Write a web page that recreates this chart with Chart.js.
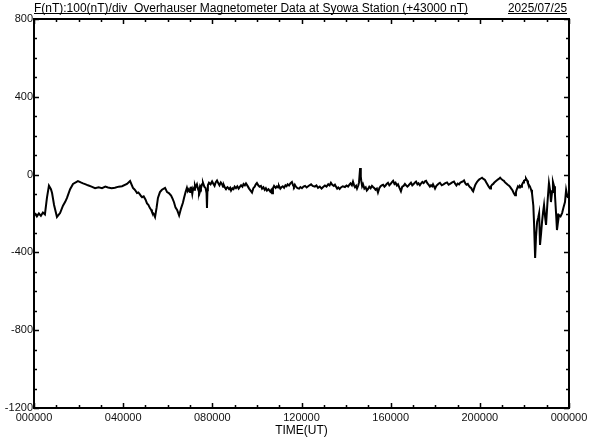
<!DOCTYPE html>
<html>
<head>
<meta charset="utf-8">
<script src="https://cdn.jsdelivr.net/npm/chart.js@4/dist/chart.umd.min.js"></script>
<style>
html,body{margin:0;padding:0;background:#fff;}
#wrap{width:592px;height:440px;position:relative;}
</style>
</head>
<body>
<div id="wrap"><canvas id="c" width="592" height="440"></canvas></div>
<script>
const titleText = "F(nT):100(nT)/div  Overhauser Magnetometer Data at Syowa Station (+43000 nT)";
const dateText = "2025/07/25";
const xTitle = "TIME(UT)";
const yMin = -1200, yMax = 800;
const yLabelValues = [800, 400, 0, -400, -800, -1200];
const xLabelHours = [0, 4, 8, 12, 16, 20, 24];
const xTickLabels = ["000000", "040000", "080000", "120000", "160000", "200000", "000000"];

// time (hours UT)
const hours = [
0.04,0.13,0.22,0.31,0.40,0.49,0.58,0.67,0.76,0.81,
0.90,1.03,1.12,1.17,1.30,1.40,1.48,1.62,1.75,1.97,
2.10,2.20,2.32,2.42,2.58,2.74,2.90,3.05,3.20,3.32,
3.48,3.63,3.80,3.95,4.17,4.31,4.44,4.50,4.55,4.62,
4.68,4.75,4.80,4.85,4.92,5.00,5.07,5.13,5.20,5.25,
5.29,5.36,5.43,5.50,5.56,5.65,5.74,5.88,5.97,6.05,
6.15,6.22,6.28,6.35,6.42,6.51,6.60,6.68,6.73,6.80,
6.86,6.90,6.95,7.00,7.04,7.07,7.10,7.14,7.18,7.22,
7.25,7.31,7.36,7.40,7.45,7.49,7.54,7.58,7.64,7.70,
7.74,7.76,7.78,7.80,7.85,7.92,7.99,8.05,8.10,8.15,
8.21,8.27,8.32,8.38,8.43,8.48,8.52,8.57,8.61,8.68,
8.75,8.80,8.84,8.90,8.95,9.00,9.06,9.12,9.18,9.24,
9.29,9.35,9.40,9.46,9.51,9.58,9.65,9.70,9.78,9.84,
9.90,9.95,10.00,10.06,10.12,10.18,10.23,10.29,10.35,10.40,
10.45,10.52,10.60,10.64,10.68,10.72,10.77,10.84,10.90,10.95,
10.99,11.05,11.10,11.16,11.22,11.28,11.33,11.38,11.44,11.50,
11.57,11.62,11.66,11.70,11.75,11.82,11.89,11.95,12.02,12.09,
12.16,12.23,12.30,12.36,12.43,12.50,12.60,12.67,12.74,12.82,
12.90,12.97,13.05,13.12,13.20,13.26,13.32,13.38,13.45,13.50,
13.55,13.60,13.65,13.71,13.77,13.85,13.95,14.02,14.09,14.15,
14.20,14.26,14.31,14.36,14.40,14.45,14.49,14.55,14.58,14.63,
14.66,14.68,14.72,14.76,14.82,14.88,14.93,14.98,15.04,15.10,
15.16,15.21,15.27,15.32,15.38,15.43,15.49,15.55,15.60,15.66,
15.72,15.77,15.82,15.88,15.94,16.00,16.05,16.11,16.17,16.22,
16.28,16.33,16.40,16.46,16.52,16.58,16.64,16.69,16.75,16.80,
16.86,16.91,16.97,17.02,17.08,17.14,17.20,17.25,17.31,17.36,
17.42,17.48,17.54,17.59,17.65,17.70,17.76,17.81,17.86,17.90,
17.95,17.99,18.05,18.10,18.16,18.21,18.29,18.37,18.45,18.53,
18.60,18.68,18.76,18.84,18.90,18.95,19.01,19.07,19.12,19.18,
19.24,19.29,19.35,19.40,19.46,19.52,19.57,19.62,19.66,19.70,
19.75,19.80,19.87,19.93,19.98,20.04,20.10,20.16,20.23,20.29,
20.35,20.40,20.46,20.50,20.55,20.60,20.64,20.70,20.78,20.85,
20.91,20.96,21.02,21.08,21.13,21.19,21.25,21.30,21.35,21.41,
21.47,21.52,21.58,21.62,21.65,21.71,21.76,21.80,21.85,21.89,
21.94,21.98,22.03,22.07,22.12,22.16,22.20,22.25,22.30,22.34,
22.40,22.43,22.48,22.52,22.57,22.62,22.66,22.70,22.75,22.79,
22.84,22.88,22.93,22.97,23.03,23.10,23.15,23.19,23.24,23.28,
23.33,23.37,23.42,23.46,23.50,23.55,23.62,23.69,23.75,23.82,
23.87,23.92,23.96];

// F deviation (nT, relative to +43000 nT)
const fValues = [
-198,-215,-200,-212,-195,-205,-120,-57,-75,-95,
-156,-218,-205,-198,-160,-140,-120,-75,-48,-33,
-40,-45,-50,-55,-62,-70,-65,-70,-62,-66,
-70,-68,-62,-60,-48,-33,-68,-75,-82,-95,
-92,-102,-110,-116,-112,-128,-148,-155,-172,-180,
-192,-200,-218,-170,-120,-90,-78,-68,-90,-95,
-108,-125,-142,-170,-182,-210,-172,-145,-120,-90,
-68,-85,-75,-90,-62,-80,-100,-70,-78,-55,
-65,-50,-75,-88,-60,-70,-50,-42,-62,-70,
-95,-172,-80,-55,-42,-50,-35,-48,-58,-40,
-30,-45,-55,-40,-48,-62,-55,-68,-72,-65,
-75,-68,-82,-70,-75,-62,-70,-60,-72,-62,
-55,-62,-48,-55,-45,-58,-72,-80,-92,-70,
-62,-50,-43,-55,-62,-58,-72,-65,-78,-70,
-82,-75,-88,-80,-96,-70,-58,-68,-60,-66,
-58,-72,-65,-60,-68,-55,-60,-50,-56,-45,
-38,-55,-62,-52,-62,-70,-72,-64,-70,-62,
-58,-66,-60,-55,-50,-58,-62,-56,-68,-62,
-72,-64,-56,-62,-50,-56,-42,-52,-58,-52,
-62,-72,-66,-74,-66,-60,-64,-56,-62,-52,
-45,-55,-36,-55,-65,-58,-72,-55,-40,34,
-10,-30,-60,-50,-72,-65,-82,-75,-62,-70,
-58,-64,-70,-78,-72,-92,-70,-60,-55,-52,
-62,-56,-48,-42,-55,-48,-40,-32,-48,-42,
-56,-50,-70,-86,-62,-58,-48,-55,-62,-56,
-48,-42,-55,-50,-42,-36,-50,-45,-55,-46,
-38,-44,-35,-32,-45,-52,-62,-55,-60,-50,
-62,-72,-58,-52,-46,-42,-55,-50,-44,-40,
-52,-46,-40,-36,-48,-56,-46,-50,-42,-38,
-35,-30,-45,-52,-48,-60,-66,-70,-80,-86,
-68,-52,-38,-30,-24,-20,-16,-22,-28,-40,
-52,-62,-72,-60,-52,-48,-42,-36,-28,-22,
-16,-22,-28,-32,-40,-46,-52,-56,-62,-72,
-82,-95,-106,-90,-78,-60,-66,-58,-62,-52,
-40,-32,-28,-20,-30,-45,-52,-62,-78,-95,
-160,-243,-429,-320,-243,-220,-198,-362,-300,-243,
-190,-156,-220,-259,-150,-43,-80,-141,-90,-38,
-60,-105,-200,-285,-250,-208,-215,-198,-170,-141,
-79,-110,-120];

const nPts = Math.min(hours.length, fValues.length);
const points = hours.slice(0, nPts).map((h, i) => ({x: h, y: fValues[i]}));

const framePlugin = {
  id: 'frame',
  afterDraw(chart) {
    const ctx = chart.ctx;
    const a = chart.chartArea;
    const xs = chart.scales.x, ys = chart.scales.y;
    ctx.save();
    ctx.strokeStyle = '#000';
    ctx.lineWidth = 2;
    ctx.strokeRect(a.left, a.top, a.right - a.left, a.bottom - a.top);
    ctx.lineWidth = 1.5;
    ctx.beginPath();
    for (let v = yMin; v <= yMax; v += 100) {
      const y = Math.round(ys.getPixelForValue(v)) + 0.5;
      const len = (v % 400 === 0) ? 5 : 3;
      ctx.moveTo(a.left, y); ctx.lineTo(a.left + len, y);
      ctx.moveTo(a.right, y); ctx.lineTo(a.right - len, y);
    }
    for (let h = 0; h <= 24; h++) {
      const x = Math.round(xs.getPixelForValue(h)) + 0.5;
      const len = (h % 4 === 0) ? 5 : 3;
      ctx.moveTo(x, a.bottom); ctx.lineTo(x, a.bottom - len);
      ctx.moveTo(x, a.top); ctx.lineTo(x, a.top + len);
    }
    ctx.stroke();

    // header texts
    ctx.fillStyle = '#000';
    ctx.textBaseline = 'alphabetic';
    ctx.font = '12px "Liberation Sans", Arial, sans-serif';
    const tx = 34, tw = 434, baseY = 12;
    const w = ctx.measureText(titleText).width;
    ctx.save();
    ctx.translate(tx, baseY);
    ctx.scale(tw / w, 1);
    ctx.fillText(titleText, 0, 0);
    ctx.restore();
    ctx.lineWidth = 1;
    ctx.beginPath();
    ctx.moveTo(tx, 13.5); ctx.lineTo(tx + tw, 13.5);
    const dx = 508, dw = 59;
    const w2 = ctx.measureText(dateText).width;
    ctx.save();
    ctx.translate(dx, baseY);
    ctx.scale(dw / w2, 1);
    ctx.fillText(dateText, 0, 0);
    ctx.restore();
    ctx.moveTo(dx, 13.5); ctx.lineTo(dx + dw, 13.5);
    ctx.stroke();
    ctx.restore();
  }
};

new Chart(document.getElementById('c'), {
  type: 'line',
  data: {
    datasets: [{
      data: points,
      borderColor: '#000',
      borderWidth: 2,
      pointRadius: 0,
      tension: 0,
      fill: false
    }]
  },
  options: {
    responsive: false,
    animation: false,
    events: [],
    layout: { padding: { top: 19, right: 23, left: 0, bottom: 0 } },
    plugins: { legend: { display: false }, tooltip: { enabled: false }, title: { display: false } },
    scales: {
      x: {
        type: 'linear',
        min: 0, max: 24,
        afterFit(s) { s.height = 32; },
        afterBuildTicks(s) { s.ticks = xLabelHours.map(v => ({value: v})); },
        grid: { display: false, drawTicks: false },
        border: { display: false },
        ticks: {
          autoSkip: false, maxRotation: 0, padding: 3,
          color: '#111',
          font: { family: '"Liberation Sans", Arial, sans-serif', size: 11 },
          callback: (v) => { const i = xLabelHours.indexOf(v); return i >= 0 ? xTickLabels[i] : ''; }
        },
        title: {
          display: true, text: xTitle, color: '#000',
          font: { family: '"Liberation Sans", Arial, sans-serif', size: 12 },
          padding: { top: 0, bottom: 2 }
        }
      },
      y: {
        type: 'linear',
        min: yMin, max: yMax,
        afterFit(s) { s.width = 34; },
        afterBuildTicks(s) { s.ticks = yLabelValues.map(v => ({value: v})); },
        grid: { display: false, drawTicks: false },
        border: { display: false },
        ticks: {
          autoSkip: false, padding: 1,
          color: '#111',
          font: { family: '"Liberation Sans", Arial, sans-serif', size: 11 },
          callback: (v) => String(v)
        }
      }
    }
  },
  plugins: [framePlugin]
});
</script>
</body>
</html>
